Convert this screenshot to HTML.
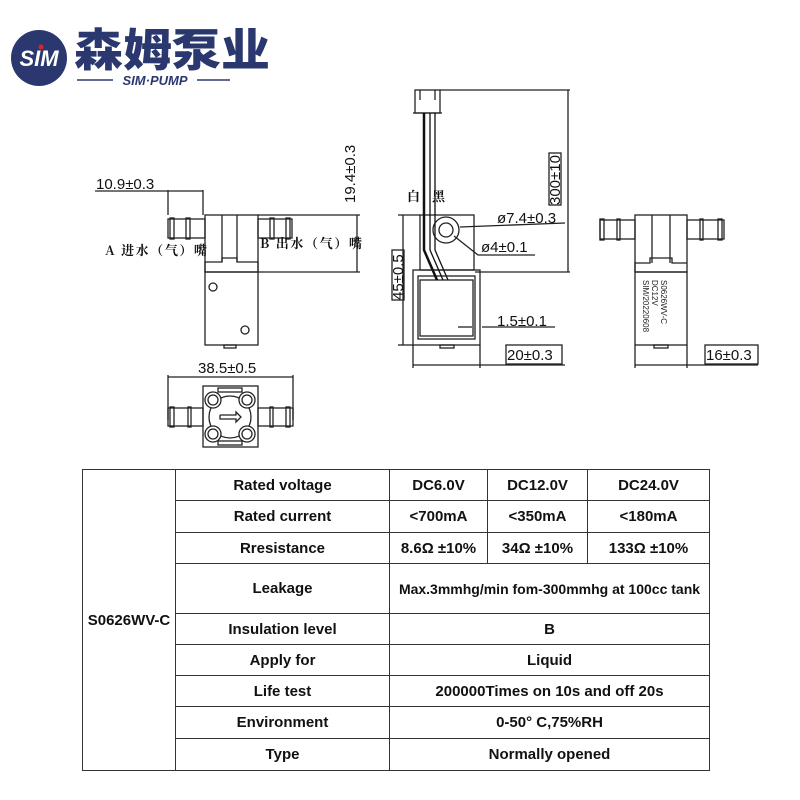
<!DOCTYPE html>
<html><head><meta charset="utf-8"><style>
body{margin:0;background:#fff;width:800px;height:800px;overflow:hidden;position:relative;font-family:"Liberation Sans","Noto Sans CJK SC",sans-serif}
svg{position:absolute;left:0;top:0}
table{position:absolute;left:82px;top:469px;border-collapse:collapse;font-family:"Liberation Sans Narrow","Liberation Sans",sans-serif;font-weight:bold;font-size:15px;color:#111}
td{border:1.5px solid #333;text-align:center;padding:0;white-space:nowrap}
</style></head><body>
<svg width="800" height="800" viewBox="0 0 800 800" font-family="Liberation Sans, Noto Sans CJK SC, sans-serif">
<!-- logo -->
<circle cx="39" cy="58" r="28" fill="#2b3870"/>
<text x="39" y="66" font-size="22" font-weight="bold" font-style="italic" fill="#fff" text-anchor="middle">SIM</text>
<circle cx="41" cy="47" r="2.5" fill="#d22"/>
<text x="74" y="66" font-size="45" font-weight="900" fill="#2b3870" font-family="Noto Sans CJK SC, sans-serif" textLength="196" lengthAdjust="spacingAndGlyphs">森姆泵业</text>
<line x1="77" y1="80" x2="113" y2="80" stroke="#2b3870" stroke-width="1.5"/>
<line x1="197" y1="80" x2="230" y2="80" stroke="#2b3870" stroke-width="1.5"/>
<text x="155" y="85" font-size="13" font-weight="bold" font-style="italic" fill="#2b3870" text-anchor="middle">SIM·PUMP</text>

<g stroke="#222" stroke-width="1.3" fill="none">
<!-- left view -->
<rect x="205" y="215" width="53" height="57"/>
<line x1="222" y1="215" x2="222" y2="262"/><line x1="237" y1="215" x2="237" y2="262"/>
<polyline points="205,272 205,262 222,262 222,258 237,258 237,262 258,262 258,272"/>
<rect x="205" y="272" width="53" height="73"/>
<rect x="224" y="345" width="12" height="3"/>
<circle cx="213" cy="287" r="4"/><circle cx="245" cy="330" r="4"/>
<rect x="168" y="219" width="37" height="19"/>
<rect x="170" y="218" width="4" height="21"/><rect x="186" y="218" width="4" height="21"/>
<rect x="258" y="219" width="34" height="19"/>
<rect x="270" y="218" width="4" height="21"/><rect x="286" y="218" width="4" height="21"/>
<line x1="95" y1="191" x2="203" y2="191"/>
<line x1="168" y1="190" x2="168" y2="215"/><line x1="203" y1="190" x2="203" y2="215"/>
<line x1="258" y1="215" x2="360" y2="215"/><line x1="258" y1="272" x2="360" y2="272"/>
<line x1="357" y1="215" x2="357" y2="272"/>
<!-- bottom view -->
<line x1="168" y1="377" x2="293" y2="377"/>
<line x1="168" y1="375" x2="168" y2="420"/><line x1="293" y1="375" x2="293" y2="420"/>
<rect x="203" y="386" width="55" height="61"/>
<rect x="218" y="388" width="24" height="4"/><rect x="218" y="441" width="24" height="4"/>
<rect x="168" y="408" width="35" height="18"/><rect x="258" y="408" width="35" height="18"/>
<rect x="170" y="407" width="4" height="20"/><rect x="188" y="407" width="3" height="20"/>
<rect x="270" y="407" width="3" height="20"/><rect x="286" y="407" width="4" height="20"/>
<circle cx="230" cy="417" r="21"/>
<circle cx="213" cy="400" r="8" fill="#fff"/><circle cx="247" cy="400" r="8" fill="#fff"/>
<circle cx="213" cy="434" r="8" fill="#fff"/><circle cx="247" cy="434" r="8" fill="#fff"/>
<circle cx="213" cy="400" r="5"/><circle cx="247" cy="400" r="5"/>
<circle cx="213" cy="434" r="5"/><circle cx="247" cy="434" r="5"/>
<polyline points="220,415 236,415 236,412 241,417 236,422 236,419 220,419 220,415"/>
<!-- middle view -->
<rect x="415" y="90" width="25" height="23"/>
<line x1="420" y1="90" x2="420" y2="100"/><line x1="435" y1="90" x2="435" y2="100"/>
<line x1="413" y1="113" x2="442" y2="113"/>
<rect x="420" y="215" width="54" height="55"/>
<circle cx="446" cy="230" r="13"/><circle cx="446" cy="230" r="7"/>
<rect x="413" y="270" width="67" height="75"/>
<rect x="418" y="276" width="57" height="63"/>
<rect x="420" y="280" width="53" height="56"/>
<rect x="440" y="345" width="14" height="3"/>
<line x1="440" y1="90" x2="570" y2="90"/><line x1="475" y1="272" x2="570" y2="272"/>
<line x1="568" y1="90" x2="568" y2="272"/>
<line x1="398" y1="215" x2="420" y2="215"/><line x1="398" y1="345" x2="413" y2="345"/>
<line x1="403" y1="215" x2="403" y2="345"/>
<polyline points="460,227 565,223"/>
<polyline points="454,236 478,255 535,255"/>
<line x1="458" y1="327" x2="472" y2="327"/><line x1="482" y1="327" x2="555" y2="327"/>
<line x1="413" y1="345" x2="413" y2="368"/><line x1="480" y1="345" x2="480" y2="368"/>
<line x1="413" y1="365" x2="565" y2="365"/>
<rect x="506" y="345" width="56" height="19"/>
<rect x="392" y="250" width="12" height="50"/>
<rect x="549" y="153" width="12" height="52"/>
<!-- right view -->
<rect x="635" y="215" width="52" height="57"/>
<line x1="652" y1="215" x2="652" y2="263"/><line x1="670" y1="215" x2="670" y2="263"/>
<polyline points="635,272 635,263 650,263 650,258 672,258 672,263 687,263"/>
<rect x="635" y="272" width="52" height="73"/>
<rect x="654" y="345" width="14" height="3"/>
<rect x="600" y="220" width="35" height="19"/><rect x="687" y="220" width="37" height="19"/>
<rect x="600" y="219" width="4" height="21"/><rect x="617" y="219" width="3" height="21"/>
<rect x="700" y="219" width="3" height="21"/><rect x="718" y="219" width="4" height="21"/>
<line x1="635" y1="345" x2="635" y2="368"/><line x1="687" y1="345" x2="687" y2="368"/>
<line x1="635" y1="365" x2="758" y2="365"/>
<rect x="705" y="345" width="53" height="19"/>
</g>
<!-- wires -->
<g stroke="#111" fill="none">
<path d="M424,113 L424,250 L437,280" stroke-width="2.5"/>
<path d="M430,113 L430,250 L443,280" stroke-width="1.3"/>
<path d="M435,113 L435,250 L448,280" stroke-width="1.3"/>
</g>
<g font-size="15" fill="#111">
<text x="96" y="189">10.9±0.3</text>
<text transform="translate(355,203) rotate(-90)">19.4±0.3</text>
<text x="198" y="373">38.5±0.5</text>
<text transform="translate(403,300) rotate(-90)">45±0.5</text>
<text transform="translate(560,205) rotate(-90)">300±10</text>
<text x="497" y="223">ø7.4±0.3</text>
<text x="481" y="252">ø4±0.1</text>
<text x="497" y="326">1.5±0.1</text>
<text x="507" y="360">20±0.3</text>
<text x="706" y="360">16±0.3</text>
</g>
<g font-size="13" font-weight="bold" fill="#111" font-family="Noto Serif CJK SC, serif">
<text x="105" y="255" textLength="102">A 进水（气）嘴</text>
<text x="260" y="248" textLength="102">B 出水（气）嘴</text>
<text x="407" y="201">白</text><text x="432" y="201">黑</text>
</g>
<g font-size="8" fill="#222" transform="translate(661,280) rotate(90)">
<text x="0" y="0">S0626WV-C</text>
<text x="0" y="9">DC12V</text>
<text x="0" y="18">SIM/20220608</text>
</g>
</svg>
<table>
<tr style="height:31px"><td rowspan="9" style="width:92px">S0626WV-C</td><td style="width:213px">Rated voltage</td><td style="width:97px">DC6.0V</td><td style="width:99px">DC12.0V</td><td style="width:121px">DC24.0V</td></tr>
<tr style="height:32px"><td>Rated current</td><td>&lt;700mA</td><td>&lt;350mA</td><td>&lt;180mA</td></tr>
<tr style="height:31px"><td>Rresistance</td><td>8.6Ω ±10%</td><td>34Ω ±10%</td><td>133Ω ±10%</td></tr>
<tr style="height:50px"><td>Leakage</td><td colspan="3" style="font-size:14px">Max.3mmhg/min fom-300mmhg at 100cc tank</td></tr>
<tr style="height:31px"><td>Insulation level</td><td colspan="3">B</td></tr>
<tr style="height:31px"><td>Apply for</td><td colspan="3">Liquid</td></tr>
<tr style="height:31px"><td>Life test</td><td colspan="3">200000Times on 10s and off 20s</td></tr>
<tr style="height:32px"><td>Environment</td><td colspan="3">0-50° C,75%RH</td></tr>
<tr style="height:32px"><td>Type</td><td colspan="3">Normally opened</td></tr>
</table>
</body></html>
